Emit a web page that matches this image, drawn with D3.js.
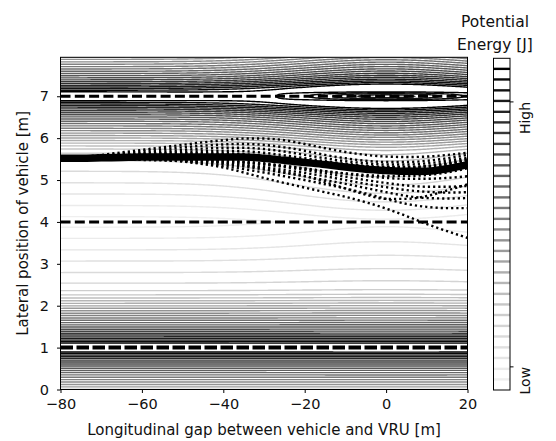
<!DOCTYPE html>
<html>
<head>
<meta charset="utf-8">
<script src="https://cdn.jsdelivr.net/npm/d3@7"></script>
<style>
  body { margin: 0; background: #fff; }
  text { font-family: "DejaVu Sans", sans-serif; fill: #111; }
</style>
</head>
<body>
<svg id="chart" width="556" height="441"></svg>
<script>
// contour levels of the potential field, low -> high
const levels = [0.070, 0.102, 0.135, 0.167, 0.200, 0.232, 0.265, 0.297, 0.329, 0.362,
  0.394, 0.427, 0.459, 0.491, 0.524, 0.556, 0.589, 0.621, 0.654, 0.686,
  0.718, 0.751, 0.783, 0.816, 0.848, 0.880, 0.913, 0.945, 0.978, 1.010];

// road geometry
const roadEdges = [1, 7];
const laneLine = 4;
const vruPos = [0, 7];

// potential field shape parameters
const edgePeak = 0.259, farSlope = 0.12, nearSlope = 0.55, edgeReach = 1.3, edgeSoft = 0.08;
const edgeBoost = 0.2, edgeBoostReach = 0.2, edgeRound = 0.07;
const vruAmp = 0.14, vruSigma = [28, 2.6];
const ridgeAmp = 0.08, ridgeSigma = [25, 0.25];
const craterDepth = 0.4, craterSigma = [18, 0.13];

// sampled trajectories (lateral position at each longitudinal station)
const trajX = [-80, -75, -70, -65, -60, -55, -50, -45, -40, -35, -30, -25, -20, -15, -10, -5, 0, 5, 10, 15, 20];
const meanPath = [5.52, 5.52, 5.53, 5.54, 5.55, 5.55, 5.55, 5.55, 5.55, 5.55, 5.52, 5.47, 5.42, 5.37, 5.31, 5.26, 5.23, 5.21, 5.21, 5.27, 5.37];
const trajU1 = [5.52, 5.55, 5.60, 5.66, 5.72, 5.78, 5.84, 5.90, 5.95, 5.99, 5.99, 5.95, 5.86, 5.76, 5.67, 5.60, 5.56, 5.55, 5.56, 5.60, 5.65];
const trajU2 = [5.52, 5.54, 5.58, 5.63, 5.68, 5.73, 5.78, 5.82, 5.85, 5.86, 5.84, 5.78, 5.70, 5.60, 5.52, 5.46, 5.43, 5.43, 5.46, 5.52, 5.60];
const trajU3 = [5.52, 5.53, 5.56, 5.60, 5.64, 5.68, 5.72, 5.75, 5.77, 5.77, 5.74, 5.68, 5.60, 5.52, 5.45, 5.40, 5.37, 5.37, 5.40, 5.46, 5.53];
const trajU4 = [5.52, 5.53, 5.55, 5.58, 5.61, 5.64, 5.67, 5.69, 5.70, 5.69, 5.65, 5.59, 5.52, 5.45, 5.39, 5.34, 5.31, 5.31, 5.34, 5.41, 5.50];
const trajU5 = [5.52, 5.52, 5.54, 5.56, 5.58, 5.61, 5.63, 5.64, 5.64, 5.62, 5.58, 5.53, 5.47, 5.41, 5.36, 5.31, 5.28, 5.27, 5.30, 5.37, 5.46];
const trajM1 = [5.52, 5.51, 5.50, 5.49, 5.48, 5.47, 5.46, 5.45, 5.44, 5.42, 5.38, 5.33, 5.27, 5.21, 5.16, 5.12, 5.10, 5.10, 5.12, 5.18, 5.28];
const trajM2 = [5.52, 5.54, 5.57, 5.60, 5.62, 5.63, 5.63, 5.63, 5.62, 5.60, 5.57, 5.52, 5.47, 5.42, 5.37, 5.33, 5.31, 5.31, 5.33, 5.38, 5.47];
const trajL1 = [5.52, 5.52, 5.52, 5.51, 5.50, 5.48, 5.44, 5.38, 5.30, 5.18, 5.05, 4.93, 4.82, 4.71, 4.60, 4.47, 4.32, 4.14, 3.95, 3.78, 3.62];
const trajL2 = [5.52, 5.52, 5.52, 5.51, 5.50, 5.48, 5.45, 5.40, 5.34, 5.26, 5.18, 5.09, 5.00, 4.90, 4.80, 4.68, 4.55, 4.43, 4.36, 4.33, 4.33];
const trajL3 = [5.52, 5.52, 5.52, 5.52, 5.51, 5.50, 5.47, 5.43, 5.38, 5.32, 5.25, 5.17, 5.09, 5.00, 4.91, 4.81, 4.71, 4.62, 4.57, 4.56, 4.57];
const trajL4 = [5.52, 5.52, 5.52, 5.52, 5.52, 5.51, 5.49, 5.46, 5.42, 5.37, 5.31, 5.24, 5.17, 5.09, 5.00, 4.91, 4.83, 4.76, 4.72, 4.70, 4.71];
const trajL5 = [5.52, 5.52, 5.52, 5.52, 5.52, 5.52, 5.51, 5.49, 5.46, 5.42, 5.37, 5.31, 5.24, 5.16, 5.08, 5.00, 4.93, 4.87, 4.84, 4.84, 4.86];
const trajL6 = [5.52, 5.52, 5.52, 5.52, 5.52, 5.52, 5.52, 5.50, 5.48, 5.44, 5.40, 5.34, 5.28, 5.21, 5.15, 5.09, 5.05, 5.03, 5.03, 5.05, 5.09];
const trajL7 = [5.52, 5.52, 5.52, 5.52, 5.52, 5.51, 5.49, 5.46, 5.41, 5.35, 5.28, 5.19, 5.10, 4.95, 4.80, 4.65, 4.55, 4.55, 4.62, 4.75, 4.90];
const dottedTrajs = [trajU1, trajU2, trajU3, trajU4, trajU5, trajM1, trajM2,
  trajL1, trajL2, trajL3, trajL4, trajL5, trajL6, trajL7];

const xTicks = [-80, -60, -40, -20, 0, 20];
const yTicks = [0, 1, 2, 3, 4, 5, 6, 7];
const cbarTicks = [0.108, 0.91];
const cbarTickLabels = ["Low", "High"];

const svg = d3.select("#chart");
const plot = { left: 60.5, right: 467.5, top: 57.3, bottom: 389.5 };

const x = d3.scaleLinear().domain([-80, 20]).range([plot.left, plot.right]);
const y = d3.scaleLinear().domain([0, 7.93]).range([plot.bottom, plot.top]);

function edgeTerm(d) {
  const z = (edgeReach - d) / edgeSoft;
  const sp = z > 30 ? z : Math.log1p(Math.exp(z));
  return edgePeak - farSlope * (d - edgeReach) + (nearSlope - farSlope) * edgeSoft * sp
    + edgeBoost * Math.exp(-d / edgeBoostReach);
}

function potential(xv, yv) {
  const d = Math.min(Math.abs(yv - roadEdges[0]), Math.abs(yv - roadEdges[1]));
  const ds = Math.sqrt(d * d + edgeRound * edgeRound);
  const dx = xv - vruPos[0], dy = yv - vruPos[1];
  let u = edgeTerm(ds);
  u += vruAmp * Math.exp(-((dx / vruSigma[0]) ** 2) - (dy / vruSigma[1]) ** 2);
  u += ridgeAmp / Math.cosh(dx / ridgeSigma[0]) * Math.exp(-((dy / ridgeSigma[1]) ** 2));
  u -= craterDepth / Math.cosh(dx / craterSigma[0]) * Math.exp(-((dy / craterSigma[1]) ** 2));
  return u;
}

// grid a bit larger than the axes so contour borders fall outside the clip
const gx0 = -86, gdx = 0.4, nx = 281;
const gy0 = -0.4, gdy = 0.01, ny = 881;
const values = new Float64Array(nx * ny);
for (let j = 0; j < ny; j++) {
  const yv = gy0 + j * gdy;
  for (let i = 0; i < nx; i++) values[j * nx + i] = potential(gx0 + i * gdx, yv);
}

const contours = d3.contours().size([nx, ny]).thresholds(levels)(values);
const step = levels[1] - levels[0];
const lo = levels[0] - 4 * step, hi = levels[levels.length - 1];
const levelColor = (v) => d3.interpolateGreys((v - lo) / (hi - lo));

const gridProj = d3.geoTransform({
  point(px, py) {
    this.stream.point(x(gx0 + (px - 0.5) * gdx), y(gy0 + (py - 0.5) * gdy));
  },
});
const contourPath = d3.geoPath(gridProj);

svg.append("defs").append("clipPath").attr("id", "plot-clip")
  .append("rect")
  .attr("x", plot.left).attr("y", plot.top)
  .attr("width", plot.right - plot.left).attr("height", plot.bottom - plot.top);

const inner = svg.append("g").attr("clip-path", "url(#plot-clip)");

inner.append("g")
  .selectAll("path")
  .data(contours)
  .join("path")
  .attr("d", contourPath)
  .attr("fill", "none")
  .attr("stroke", (d) => levelColor(d.value))
  .attr("stroke-width", 1.4);

// lane markings
inner.append("line")
  .attr("x1", x(-80)).attr("x2", x(20))
  .attr("y1", y(roadEdges[0])).attr("y2", y(roadEdges[0]))
  .attr("stroke", "#000").attr("stroke-width", 4)
  .attr("stroke-dasharray", "12.5,3.5");

inner.selectAll("line.lane")
  .data([laneLine, roadEdges[1]])
  .join("line")
  .attr("class", "lane")
  .attr("x1", x(-80)).attr("x2", x(20))
  .attr("y1", (d) => y(d)).attr("y2", (d) => y(d))
  .attr("stroke", "#000").attr("stroke-width", 3)
  .attr("stroke-dasharray", "10,4.3");

// trajectories
const trajLine = d3.line()
  .x((d, i) => x(trajX[i]))
  .y((d) => y(d))
  .curve(d3.curveMonotoneX);

inner.append("path")
  .attr("d", trajLine(meanPath))
  .attr("fill", "none")
  .attr("stroke", "#000")
  .attr("stroke-width", 7.5);

inner.append("g")
  .selectAll("path")
  .data(dottedTrajs)
  .join("path")
  .attr("d", (d) => trajLine(d))
  .attr("fill", "none")
  .attr("stroke", "#000")
  .attr("stroke-width", 2.4)
  .attr("stroke-dasharray", "2.2,3");

// frame and axes
svg.append("rect")
  .attr("x", plot.left).attr("y", plot.top)
  .attr("width", plot.right - plot.left).attr("height", plot.bottom - plot.top)
  .attr("fill", "none").attr("stroke", "#000").attr("stroke-width", 1);

const xAxis = svg.append("g")
  .attr("transform", `translate(0,${plot.bottom})`)
  .call(d3.axisBottom(x).tickValues(xTicks).tickSize(3.5).tickPadding(6));
const yAxis = svg.append("g")
  .attr("transform", `translate(${plot.left},0)`)
  .call(d3.axisLeft(y).tickValues(yTicks).tickSize(3.5).tickPadding(8));

[xAxis, yAxis].forEach((ax) => {
  ax.select(".domain").remove();
  ax.selectAll("line").attr("stroke", "#000");
  ax.selectAll("text").attr("font-size", 14.5).attr("font-family", "DejaVu Sans").attr("fill", "#111");
});

svg.append("text")
  .attr("x", (plot.left + plot.right) / 2)
  .attr("y", 435)
  .attr("text-anchor", "middle")
  .attr("font-size", 15)
  .text("Longitudinal gap between vehicle and VRU [m]");

svg.append("text")
  .attr("transform", `translate(28,${(plot.top + plot.bottom) / 2}) rotate(-90)`)
  .attr("text-anchor", "middle")
  .attr("font-size", 15)
  .text("Lateral position of vehicle [m]");

// colorbar
const cb = { left: 493.5, right: 510, top: 58.3, bottom: 390 };
const cbY = d3.scaleLinear().domain([levels[0] - step, hi + step]).range([cb.bottom, cb.top]);

const cbar = svg.append("g");
cbar.append("rect")
  .attr("x", cb.left).attr("y", cb.top)
  .attr("width", cb.right - cb.left).attr("height", cb.bottom - cb.top)
  .attr("fill", "#fff");
cbar.selectAll("line.level")
  .data(levels)
  .join("line")
  .attr("class", "level")
  .attr("x1", cb.left).attr("x2", cb.right)
  .attr("y1", (d) => cbY(d)).attr("y2", (d) => cbY(d))
  .attr("stroke", (d) => levelColor(d))
  .attr("stroke-width", 2.4);
cbar.append("rect")
  .attr("x", cb.left).attr("y", cb.top)
  .attr("width", cb.right - cb.left).attr("height", cb.bottom - cb.top)
  .attr("fill", "none").attr("stroke", "#000").attr("stroke-width", 1);

cbar.selectAll("line.tick")
  .data(cbarTicks)
  .join("line")
  .attr("class", "tick")
  .attr("x1", cb.right).attr("x2", cb.right + 3.5)
  .attr("y1", (d) => cbY(d)).attr("y2", (d) => cbY(d))
  .attr("stroke", "#000");

cbar.selectAll("text.ticklabel")
  .data(cbarTicks)
  .join("text")
  .attr("class", "ticklabel")
  .attr("transform", (d) => `translate(530,${cbY(d)}) rotate(-90)`)
  .attr("text-anchor", "end")
  .attr("font-size", 14)
  .text((d, i) => cbarTickLabels[i]);

cbar.selectAll("text.title")
  .data(["Potential", "Energy [J]"])
  .join("text")
  .attr("class", "title")
  .attr("x", 495)
  .attr("y", (d, i) => 27 + i * 23)
  .attr("text-anchor", "middle")
  .attr("font-size", 15.5)
  .text((d) => d);
</script>
</body>
</html>
